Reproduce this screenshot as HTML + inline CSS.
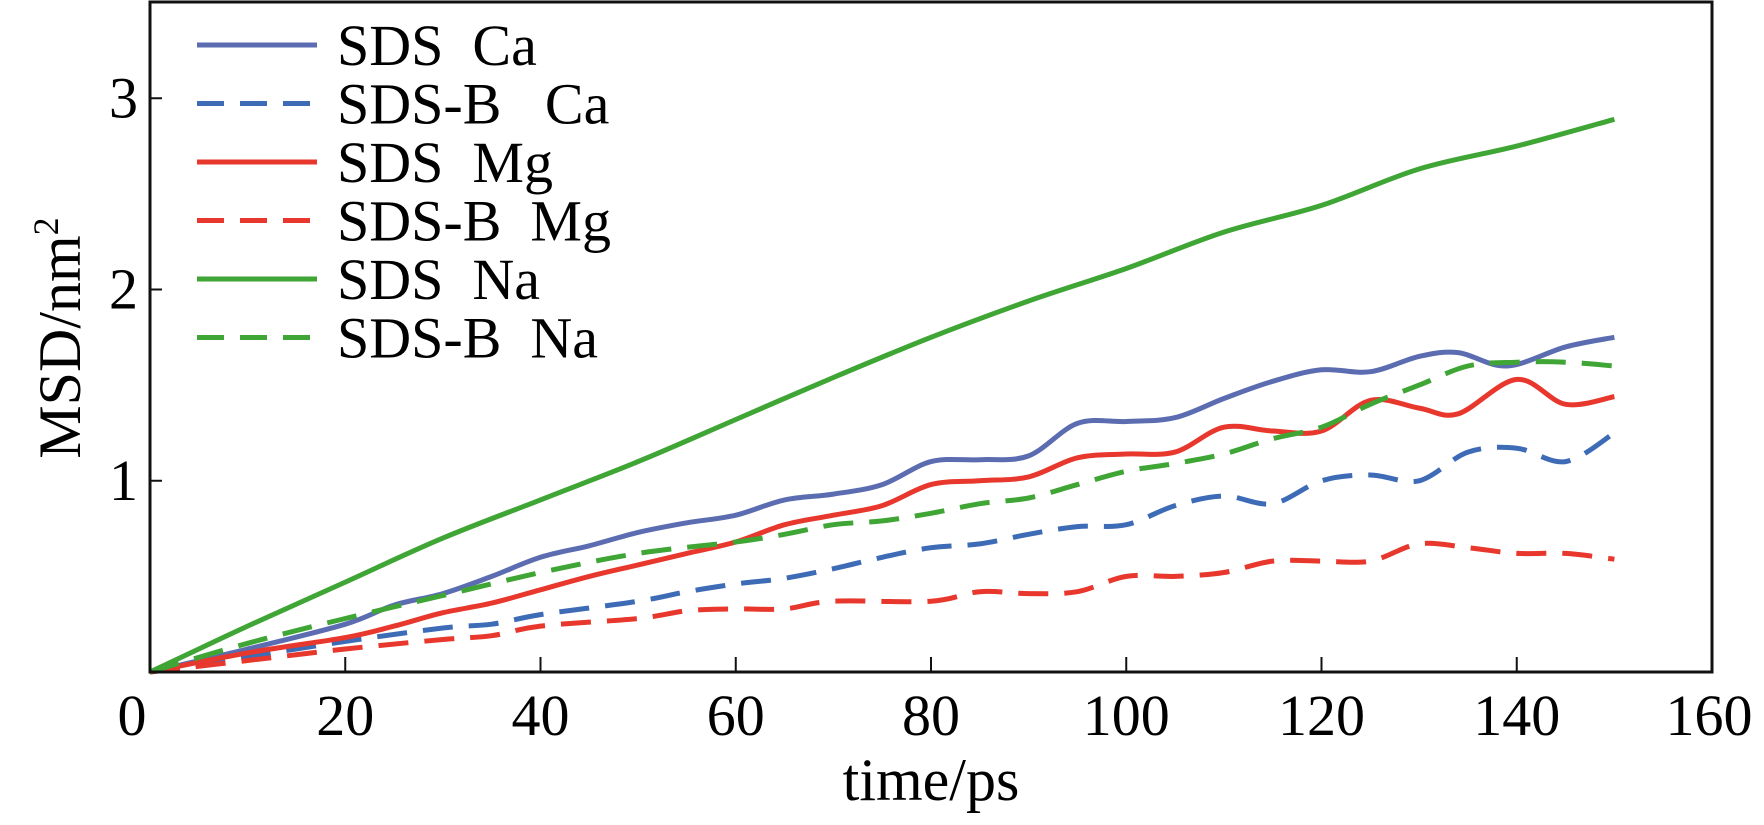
<!DOCTYPE html>
<html><head><meta charset="utf-8"><style>
body{margin:0;background:#fff}
svg{display:block}
text{font-family:"Liberation Serif",serif}
</style></head><body>
<svg id="chart" width="1764" height="825" viewBox="0 0 1764 825">
<g id="plot"></g>
<rect x="150" y="2" width="1562" height="670" fill="none" stroke="#111" stroke-width="3"/>
<g id="axes"></g>
<text x="931" y="800" text-anchor="middle" font-size="60">time/ps</text>
<text transform="translate(80,338) rotate(-90)" text-anchor="middle" font-size="60">MSD/nm<tspan font-size="36" dy="-22">2</tspan></text>
<g id="legend"></g>
</svg>
<script>
const xTicks=[0,20,40,60,80,100,120,140,160];
const yTicks=[1,2,3];
const seriesNames=["SDS  Ca","SDS-B   Ca","SDS  Mg","SDS-B  Mg","SDS  Na","SDS-B  Na"];
const caX=[0,10,20,25,30,35,40,45,50,55,60,65,70,75,80,85,90,95,100,105,110,115,120,125,130,134,139,145,150];
const caY=[0,0.12,0.25,0.35,0.41,0.5,0.6,0.66,0.73,0.78,0.82,0.9,0.93,0.98,1.1,1.11,1.13,1.3,1.31,1.33,1.43,1.52,1.58,1.57,1.65,1.67,1.6,1.7,1.75];
const cabX=[0,10,20,30,35,40,50,55,60,65,70,75,80,85,90,95,100,105,110,115,120,125,130,135,140,145,150];
const cabY=[0,0.08,0.16,0.23,0.25,0.3,0.37,0.42,0.46,0.49,0.54,0.6,0.65,0.67,0.72,0.76,0.77,0.87,0.92,0.88,1.0,1.03,1.0,1.15,1.17,1.1,1.25];
const mgX=[0,10,20,25,30,35,40,45,50,55,60,65,70,75,80,85,90,95,100,105,110,115,120,125,130,134,140,145,150];
const mgY=[0,0.1,0.18,0.24,0.31,0.36,0.43,0.5,0.56,0.62,0.68,0.77,0.82,0.87,0.98,1.0,1.02,1.12,1.14,1.15,1.28,1.26,1.26,1.42,1.38,1.35,1.53,1.4,1.44];
const mgbX=[0,10,20,30,35,40,50,55,60,65,70,80,85,90,95,100,105,110,115,120,125,130,135,140,145,150];
const mgbY=[0,0.06,0.12,0.17,0.19,0.24,0.28,0.32,0.33,0.33,0.37,0.37,0.42,0.41,0.42,0.5,0.5,0.52,0.58,0.58,0.58,0.67,0.65,0.62,0.62,0.59];
const naX=[0,5,10,20,30,40,50,60,70,80,90,100,110,120,130,140,150];
const naY=[0,0.12,0.24,0.47,0.7,0.9,1.1,1.32,1.54,1.75,1.94,2.11,2.3,2.44,2.63,2.75,2.89];
const nabX=[0,10,20,30,40,50,60,65,70,75,80,85,90,95,100,105,110,115,120,125,130,135,140,145,150];
const nabY=[0,0.15,0.28,0.4,0.52,0.62,0.68,0.72,0.77,0.79,0.83,0.88,0.91,0.98,1.05,1.09,1.14,1.22,1.28,1.4,1.5,1.6,1.62,1.62,1.6];

const NS="http://www.w3.org/2000/svg";
const X0=150,X1=1712,Y0=672,YU=191.25;
function sx(v){return X0+(X1-X0)*v/160;}
function sy(v){return Y0-YU*v;}
const styles=[
 {c:"#5b6db0",d:null,x:caX,y:caY},
 {c:"#3d6bb6",d:"30 16",x:cabX,y:cabY},
 {c:"#e8372c",d:null,x:mgX,y:mgY},
 {c:"#e8372c",d:"30 16",x:mgbX,y:mgbY},
 {c:"#3fa535",d:null,x:naX,y:naY},
 {c:"#3fa535",d:"30 16",x:nabX,y:nabY}];
function smooth(px,py){
 let d="M"+px[0]+","+py[0];
 for(let i=0;i<px.length-1;i++){
  const i0=Math.max(0,i-1),i3=Math.min(px.length-1,i+2);
  const c1x=px[i]+(px[i+1]-px[i0])/6,c1y=py[i]+(py[i+1]-py[i0])/6;
  const c2x=px[i+1]-(px[i3]-px[i])/6,c2y=py[i+1]-(py[i3]-py[i])/6;
  d+=" C"+c1x.toFixed(1)+","+c1y.toFixed(1)+" "+c2x.toFixed(1)+","+c2y.toFixed(1)+" "+px[i+1].toFixed(1)+","+py[i+1].toFixed(1);
 }
 return d;
}
const plot=document.getElementById("plot");
styles.forEach((s,k)=>{
 const p=document.createElementNS(NS,"path");
 p.setAttribute("d",smooth(s.x.map(sx),s.y.map(sy)));
 p.setAttribute("fill","none");p.setAttribute("stroke",s.c);p.setAttribute("stroke-width","5");
 if(s.d)p.setAttribute("stroke-dasharray",s.d);
 
 
 plot.appendChild(p);
});
const axes=document.getElementById("axes");
xTicks.forEach(t=>{
 const x=sx(t);
 if(t>0&&t<160){const l=document.createElementNS(NS,"line");
 l.setAttribute("x1",x);l.setAttribute("x2",x);l.setAttribute("y1",Y0);l.setAttribute("y2",Y0-15);
 l.setAttribute("stroke","#111");l.setAttribute("stroke-width","2");
 
 
 axes.appendChild(l);}
 const tx=document.createElementNS(NS,"text");
 tx.setAttribute("x",t===0?x-18:(t===160?x-3:x));tx.setAttribute("y",735);
 tx.setAttribute("text-anchor","middle");tx.setAttribute("font-size","58");
 tx.textContent=t;
 
 
 axes.appendChild(tx);
});
yTicks.forEach(t=>{
 const y=sy(t);
 const l=document.createElementNS(NS,"line");
 l.setAttribute("x1",X0);l.setAttribute("x2",X0+12);l.setAttribute("y1",y);l.setAttribute("y2",y);
 l.setAttribute("stroke","#111");l.setAttribute("stroke-width","2");
 
 
 axes.appendChild(l);
 const tx=document.createElementNS(NS,"text");
 tx.setAttribute("x",138);tx.setAttribute("y",y+19);
 tx.setAttribute("text-anchor","end");tx.setAttribute("font-size","58");
 tx.textContent=t;
 
 
 axes.appendChild(tx);
});
const leg=document.getElementById("legend");
styles.forEach((s,k)=>{
 const y=45+k*58.5;
 const g=document.createElementNS(NS,"g");
 
 
 const l=document.createElementNS(NS,"line");
 l.setAttribute("x1",197);l.setAttribute("x2",317);l.setAttribute("y1",y);l.setAttribute("y2",y);
 l.setAttribute("stroke",s.c);l.setAttribute("stroke-width","5");
 if(s.d)l.setAttribute("stroke-dasharray","27 16");
 g.appendChild(l);
 const tx=document.createElementNS(NS,"text");
 tx.setAttribute("x",337);tx.setAttribute("y",y+20);tx.setAttribute("font-size","58");
 tx.setAttribute("xml:space","preserve");tx.style.whiteSpace="pre";
 tx.textContent=seriesNames[k];
 g.appendChild(tx);
 leg.appendChild(g);
});
</script>
</body></html>
